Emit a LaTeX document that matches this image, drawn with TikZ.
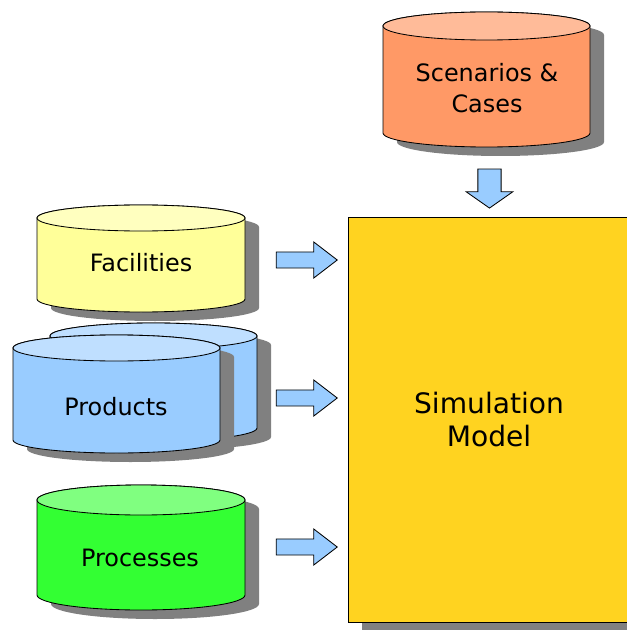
\documentclass[tikz,border=0pt]{standalone}
\usepackage{fontspec}
\setmainfont{DejaVu Sans}
\usetikzlibrary{shapes.arrows,shadows}

\definecolor{scenbody}{HTML}{FF9966}
\definecolor{scenlid}{HTML}{FFBB99}
\definecolor{facbody}{HTML}{FFFF99}
\definecolor{faclid}{HTML}{FFFFBF}
\definecolor{prodbody}{HTML}{99CCFF}
\definecolor{prodlid}{HTML}{BFDFFF}
\definecolor{procbody}{HTML}{33FF33}
\definecolor{proclid}{HTML}{80FF80}
\definecolor{simyellow}{HTML}{FFD320}
\definecolor{arrowblue}{HTML}{99CCFF}
\definecolor{shadowgray}{HTML}{808080}

% database drum: left, top, width, height, lid radius, body colour, lid colour
\newcommand{\dbcyl}[7]{%
  \begin{scope}[shift={(#1,-#2)}]
    \fill[shadowgray, shift={(14,-9)}] (0,-#5) -- (0,{-#4+#5})
      arc[start angle=180, end angle=360, x radius={#3/2}, y radius=#5]
      -- (#3,-#5) arc[start angle=0, end angle=180, x radius={#3/2}, y radius=#5] -- cycle;
    \filldraw[fill=#6] (0,-#5) -- (0,{-#4+#5})
      arc[start angle=180, end angle=360, x radius={#3/2}, y radius=#5]
      -- (#3,-#5) arc[start angle=0, end angle=180, x radius={#3/2}, y radius=#5] -- cycle;
    \filldraw[fill=#7] ({#3/2},-#5) ellipse[x radius={#3/2}, y radius=#5];
  \end{scope}}

\tikzset{
  dblabel/.style={font=\fontsize{17}{22}\selectfont, align=center},
  simbox/.style={draw, fill=simyellow, font=\fontsize{20}{24}\selectfont, align=center,
    minimum width=7.05cm, minimum height=10.125cm,
    drop shadow={shadow xshift=0.35cm, shadow yshift=-0.225cm, fill=shadowgray, opacity=1}},
  feedarrow/.style={single arrow, draw, fill=arrowblue, inner sep=0.19cm,
    minimum width=0.875cm, minimum height=1.525cm,
    single arrow head extend=0.25cm, single arrow tip angle=75},
  droparrow/.style={single arrow, draw, fill=arrowblue, inner sep=0.28cm,
    minimum width=1.15cm, minimum height=0.975cm, shape border rotate=270,
    single arrow head extend=0.29cm, single arrow tip angle=110}
}

\begin{document}
\begin{tikzpicture}[x=0.025cm, y=0.025cm, line width=0.6pt]
  \useasboundingbox (0,0) rectangle (626,-630);

  % the data stores
  \dbcyl{383}{12}{207}{135}{14}{scenbody}{scenlid}
  \dbcyl{37}{205}{208}{107}{13}{facbody}{faclid}
  \dbcyl{50}{323}{207}{118}{13}{prodbody}{prodlid}
  \dbcyl{13}{335}{207}{118}{13}{prodbody}{prodlid}
  \dbcyl{37}{485}{208}{125}{15}{procbody}{proclid}

  \node[dblabel] (scen) at (487,-88) {Scenarios \&\\Cases};
  \node[dblabel] (fac) at (141,-263) {Facilities};
  \node[dblabel] (prod) at (116,-407) {Products};
  \node[dblabel] (proc) at (140,-558) {Processes};

  % the model fed by them
  \node[simbox] (sim) at (489,-419.5) {Simulation\\Model};

  \node[droparrow] (arrscen) at (489.5,-184.5) {};
  \node[feedarrow] (arrfac) at (301.5,-260) {};
  \node[feedarrow] (arrprod) at (301.5,-398) {};
  \node[feedarrow] (arrproc) at (301.5,-547) {};
\end{tikzpicture}
\end{document}
